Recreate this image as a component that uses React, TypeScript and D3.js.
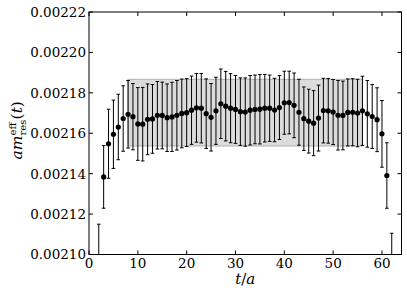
import * as d3 from 'd3'

const W = 407
const H = 296
const MARGIN = { top: 12, right: 5.5, bottom: 41.5, left: 89 }

// time slices t/a
const T = [
  2, 3, 4, 5, 6, 7, 8, 9, 10, 11, 12, 13, 14, 15, 16, 17, 18, 19, 20, 21,
  22, 23, 24, 25, 26, 27, 28, 29, 30, 31, 32, 33, 34, 35, 36, 37, 38, 39, 40, 41,
  42, 43, 44, 45, 46, 47, 48, 49, 50, 51, 52, 53, 54, 55, 56, 57, 58, 59, 60, 61, 62
]

// am_res^eff(t), units of 1e-5
const MRES = [
  209.8, 213.84, 215.48, 215.95, 216.31, 216.73, 216.94, 216.82, 216.46, 216.45, 216.69, 216.71,
  216.89, 216.88, 216.77, 216.81, 216.89, 216.98, 217.02, 217.14, 217.26, 217.24, 216.97, 216.79,
  217.11, 217.46, 217.34, 217.24, 217.18, 217.07, 217.05, 217.14, 217.18, 217.19, 217.24, 217.24,
  217.15, 217.27, 217.51, 217.52, 217.38, 217.04, 216.72, 216.6, 216.5, 216.75, 217.12, 217.11,
  217.05, 216.89, 216.88, 217.03, 217.04, 217.0, 217.11, 216.96, 216.83, 216.67, 215.97, 213.91,
  209.33
]

// errors, units of 1e-5
const ERR = [
  1.7, 1.55, 1.71, 1.69, 1.62, 1.62, 1.67, 1.64, 1.8, 1.82, 1.75, 1.7,
  1.67, 1.65, 1.67, 1.71, 1.72, 1.7, 1.68, 1.69, 1.7, 1.72, 1.72, 1.67,
  1.66, 1.72, 1.72, 1.71, 1.68, 1.67, 1.69, 1.72, 1.7, 1.72, 1.67, 1.64,
  1.57, 1.58, 1.56, 1.55, 1.6, 1.63, 1.57, 1.58, 1.61, 1.63, 1.6, 1.6,
  1.61, 1.72, 1.7, 1.66, 1.66, 1.67, 1.71, 1.65, 1.58, 1.58, 1.65, 1.62,
  1.72
]

// fit band: t range and value range (units of 1e-5)
const FIT_T = [8, 56]
const FIT_V = [215.37, 218.67]

const X_TICKS = [0, 10, 20, 30, 40, 50, 60]
const Y_TICKS = [0.0021, 0.00212, 0.00214, 0.00216, 0.00218, 0.0022, 0.00222]

const SERIF = "'DejaVu Serif', 'Liberation Serif', serif"

export default function App() {
  const iw = W - MARGIN.left - MARGIN.right
  const ih = H - MARGIN.top - MARGIN.bottom

  const x = d3.scaleLinear().domain([0, 64]).range([0, iw])
  const y = d3.scaleLinear().domain([0.0021, 0.00222]).range([ih, 0])

  const data = T.map((t, i) => ({ t, v: MRES[i] * 1e-5, e: ERR[i] * 1e-5 }))
  const cap = 1.8

  return (
    <svg width={W} height={H} style={{ position: 'absolute', left: 0, top: 0, fontFamily: SERIF }}>
      <defs>
        <clipPath id="plot-clip">
          <rect x={0} y={0} width={iw} height={ih} />
        </clipPath>
      </defs>
      <rect width={W} height={H} fill="#fff" />
      <g transform={`translate(${MARGIN.left}, ${MARGIN.top})`}>
        <g clipPath="url(#plot-clip)">
          {/* fit band */}
          <rect
            x={x(FIT_T[0])}
            y={y(FIT_V[1] * 1e-5)}
            width={x(FIT_T[1]) - x(FIT_T[0])}
            height={y(FIT_V[0] * 1e-5) - y(FIT_V[1] * 1e-5)}
            fill="#dcdcdc"
            stroke="#b0b0b0"
            strokeWidth={1}
          />

          {/* error bars */}
          {data.map(d => {
            const cx = x(d.t)
            const y0 = y(d.v - d.e)
            const y1 = y(d.v + d.e)
            return (
              <g key={`e-${d.t}`} stroke="#000" strokeWidth={1}>
                <line x1={cx} x2={cx} y1={y0} y2={y1} />
                <line x1={cx - cap} x2={cx + cap} y1={y0} y2={y0} />
                <line x1={cx - cap} x2={cx + cap} y1={y1} y2={y1} />
              </g>
            )
          })}

          {/* points */}
          {data.map(d => (
            <circle key={`p-${d.t}`} cx={x(d.t)} cy={y(d.v)} r={2.6} fill="#000" />
          ))}
        </g>

        {/* frame */}
        <rect x={0} y={0} width={iw} height={ih} fill="none" stroke="#000" strokeWidth={1} />

        {/* x ticks */}
        {X_TICKS.map(t => (
          <g key={`xt-${t}`} transform={`translate(${x(t)}, 0)`}>
            <line y1={ih} y2={ih - 4} stroke="#000" />
            <line y1={0} y2={4} stroke="#000" />
            <text y={ih + 13} textAnchor="middle" fontSize={13.5} fill="#000">
              {t}
            </text>
          </g>
        ))}

        {/* y ticks */}
        {Y_TICKS.map(v => (
          <g key={`yt-${v}`} transform={`translate(0, ${y(v)})`}>
            <line x1={0} x2={4} stroke="#000" />
            <line x1={iw} x2={iw - 4} stroke="#000" />
            <text x={-3} dy="0.36em" textAnchor="end" fontSize={13.5} fill="#000">
              {d3.format('.5f')(v)}
            </text>
          </g>
        ))}

        {/* x label */}
        <text x={iw / 2} y={ih + 29} textAnchor="middle" fontSize={15} fill="#000">
          <tspan fontStyle="italic">t</tspan>
          <tspan>/</tspan>
          <tspan fontStyle="italic">a</tspan>
        </text>
      </g>

      {/* y label */}
      <text
        transform={`translate(22, ${MARGIN.top + ih / 2 - 3}) rotate(-90)`}
        textAnchor="middle"
        fontSize={15.5}
        fill="#000"
      >
        <tspan fontStyle="italic">am</tspan>
        <tspan fontSize={10} dy={3.5}>res</tspan>
        <tspan fontSize={10} dx={-15.8} dy={-10}>eff</tspan>
        <tspan dx={3} dy={6.5}>(</tspan>
        <tspan fontStyle="italic">t</tspan>
        <tspan>)</tspan>
      </text>
    </svg>
  )
}
